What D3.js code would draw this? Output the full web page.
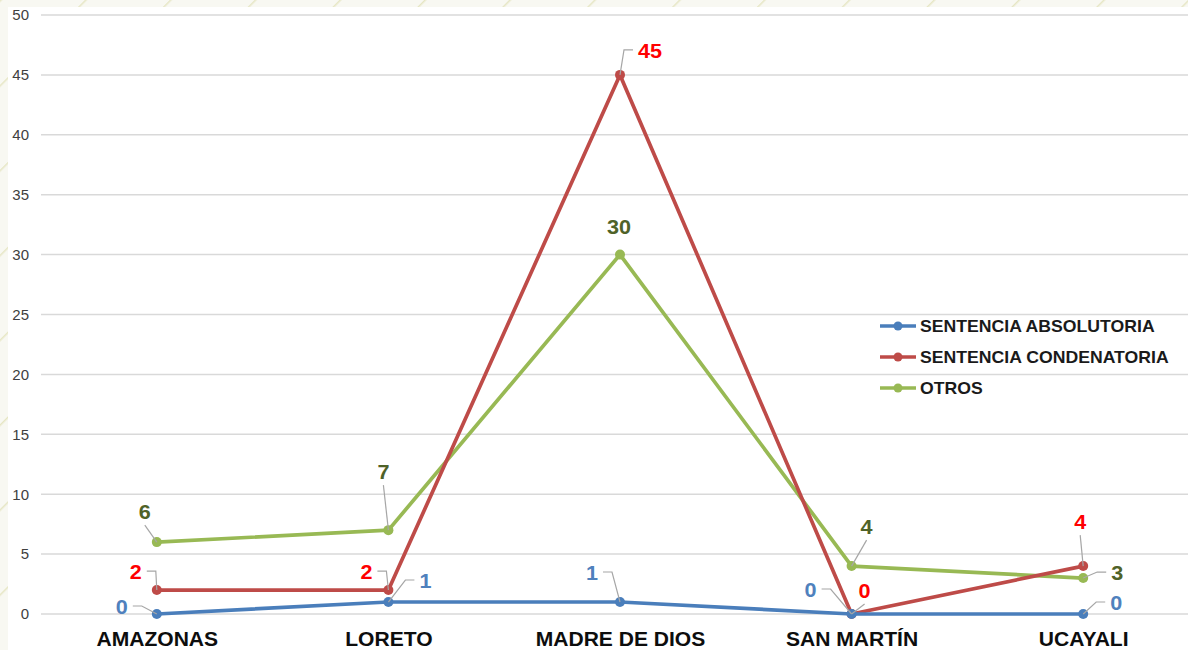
<!DOCTYPE html>
<html>
<head>
<meta charset="utf-8">
<script src="https://cdn.jsdelivr.net/npm/d3@7"></script>
<style>
  body { margin: 0; background: #ffffff; }
  svg { display: block; font-family: "Liberation Sans", Arial, sans-serif; }
</style>
</head>
<body>
<script>
// chart data
var categories = ["AMAZONAS", "LORETO", "MADRE DE DIOS", "SAN MARTÍN", "UCAYALI"];
var seriesNames = ["SENTENCIA ABSOLUTORIA", "SENTENCIA CONDENATORIA", "OTROS"];
var absolutoria = [0, 1, 1, 0, 0];
var condenatoria = [2, 2, 45, 0, 4];
var otros = [6, 7, 30, 4, 3];
var yTicks = [0, 5, 10, 15, 20, 25, 30, 35, 40, 45, 50];

// styling per series
var lineColors = ["#4a7ebb", "#be4b48", "#98b954"];
var labelColors = ["#4f81bd", "#ff0000", "#4f6228"];

// data label placement: [dx, dy, has leader]
var labelOffsets = [
    [[-35, -7, 1], [37, -21, 1], [-28, -29, 1], [-41, -24, 1], [33, -11, 1]],
    [[-21, -18, 1], [-22, -18, 1], [30, -24, 1], [13, -23, 1], [-3, -44, 1]],
    [[-12, -30, 1], [-5, -58, 1], [-1, -28, 0], [15, -39, 1], [34, -5, 1]]
];

var width = 1188, height = 650;
var svg = d3.select("body").append("svg")
    .attr("width", width)
    .attr("height", height);

// decorative background behind the chart panel
var defs = svg.append("defs");
var pat = defs.append("pattern").attr("id", "diag")
    .attr("width", 60).attr("height", 60)
    .attr("patternUnits", "userSpaceOnUse")
    .attr("patternTransform", "rotate(45)");
pat.append("rect").attr("width", 60).attr("height", 60).attr("fill", "#f8f8f2");
pat.append("line").attr("x1", 0).attr("y1", 0).attr("x2", 0).attr("y2", 60)
    .attr("stroke", "#e6e6c4").attr("stroke-width", 3);
svg.append("rect").attr("width", width).attr("height", height).attr("fill", "url(#diag)");
svg.append("rect").attr("x", 8).attr("y", 7).attr("width", width).attr("height", height)
    .attr("fill", "#ffffff");

var x = d3.scalePoint().domain(categories).range([41, 1199]).padding(0.5);
var y = d3.scaleLinear().domain([0, 50]).range([614, 15]);

// gridlines
svg.append("g").selectAll("line").data(yTicks).enter().append("line")
    .attr("x1", 41).attr("x2", width)
    .attr("y1", function(d) { return y(d); })
    .attr("y2", function(d) { return y(d); })
    .attr("stroke", "#d9d9d9").attr("stroke-width", 1.5);

// y axis labels
var yAxis = d3.axisLeft(y).tickValues(yTicks).tickSize(0).tickPadding(0);
var yg = svg.append("g").attr("transform", "translate(29,0)").call(yAxis);
yg.select(".domain").remove();
yg.selectAll("text").attr("font-size", 15).attr("fill", "#404040")
    .attr("font-family", "Liberation Sans, Arial, sans-serif");

// x axis labels
var xAxis = d3.axisBottom(x).tickSize(0).tickPadding(0);
var xg = svg.append("g").attr("transform", "translate(0,646)").call(xAxis);
xg.select(".domain").remove();
xg.selectAll("text").attr("y", 0).attr("dy", 0)
    .attr("font-size", 19.5).attr("font-weight", "bold")
    .attr("transform", "scale(1.08,1)")
    .attr("fill", "#0d0d0d").attr("font-family", "Liberation Sans, Arial, sans-serif");

var allSeries = [absolutoria, condenatoria, otros];
var line = d3.line()
    .x(function(d, i) { return x(categories[i]); })
    .y(function(d) { return y(d); });

// lines (green drawn first, then red, then blue on top)
var order = [2, 1, 0];
order.forEach(function(s) {
    svg.append("path").datum(allSeries[s])
        .attr("d", line)
        .attr("fill", "none")
        .attr("stroke", lineColors[s])
        .attr("stroke-width", 3.7)
        .attr("stroke-linejoin", "round");
    svg.append("g").selectAll("circle").data(allSeries[s]).enter().append("circle")
        .attr("cx", function(d, i) { return x(categories[i]); })
        .attr("cy", function(d) { return y(d); })
        .attr("r", 5)
        .attr("fill", lineColors[s]);
});

// data labels with leader lines
order.forEach(function(s) {
    allSeries[s].forEach(function(v, i) {
        var px = x(categories[i]), py = y(v);
        var off = labelOffsets[s][i];
        var lx = px + off[0], ly = py + off[1];
        if (off[2]) {
            var side = off[0] < 0 ? 1 : -1;
            var half = String(v).length * 6 + 5;
            var pts;
            if (Math.abs(off[0]) > 20) {
                var ex = lx + side * half, ey = ly - 1;
                pts = [[px, py], [ex + side * 9, ey], [ex, ey]];
            } else {
                pts = [[px, py], [lx, ly + 13]];
            }
            svg.append("path")
                .attr("d", d3.line()(pts))
                .attr("fill", "none")
                .attr("stroke", "#a6a6a6")
                .attr("stroke-width", 1.2);
        }
        svg.append("text")
            .attr("transform", "translate(" + lx + "," + ly + ") scale(1.08,1)")
            .attr("dy", "0.35em")
            .attr("text-anchor", "middle")
            .attr("font-size", 20)
            .attr("font-weight", "bold")
            .attr("fill", labelColors[s])
            .text(v);
    });
});

// legend
var legend = svg.append("g").attr("transform", "translate(880,326)");
seriesNames.forEach(function(name, i) {
    var g = legend.append("g").attr("transform", "translate(0," + (i * 31) + ")");
    g.append("line").attr("x1", 0).attr("x2", 36).attr("y1", 0).attr("y2", 0)
        .attr("stroke", lineColors[i]).attr("stroke-width", 3.5);
    g.append("circle").attr("cx", 18).attr("cy", 0).attr("r", 4.5).attr("fill", lineColors[i]);
    g.append("text").attr("transform", "translate(40,0) scale(1.07,1)").attr("dy", "0.35em")
        .attr("font-size", 16.5).attr("font-weight", "bold").attr("fill", "#1a1a1a")
        .text(name);
});
</script>
</body>
</html>
